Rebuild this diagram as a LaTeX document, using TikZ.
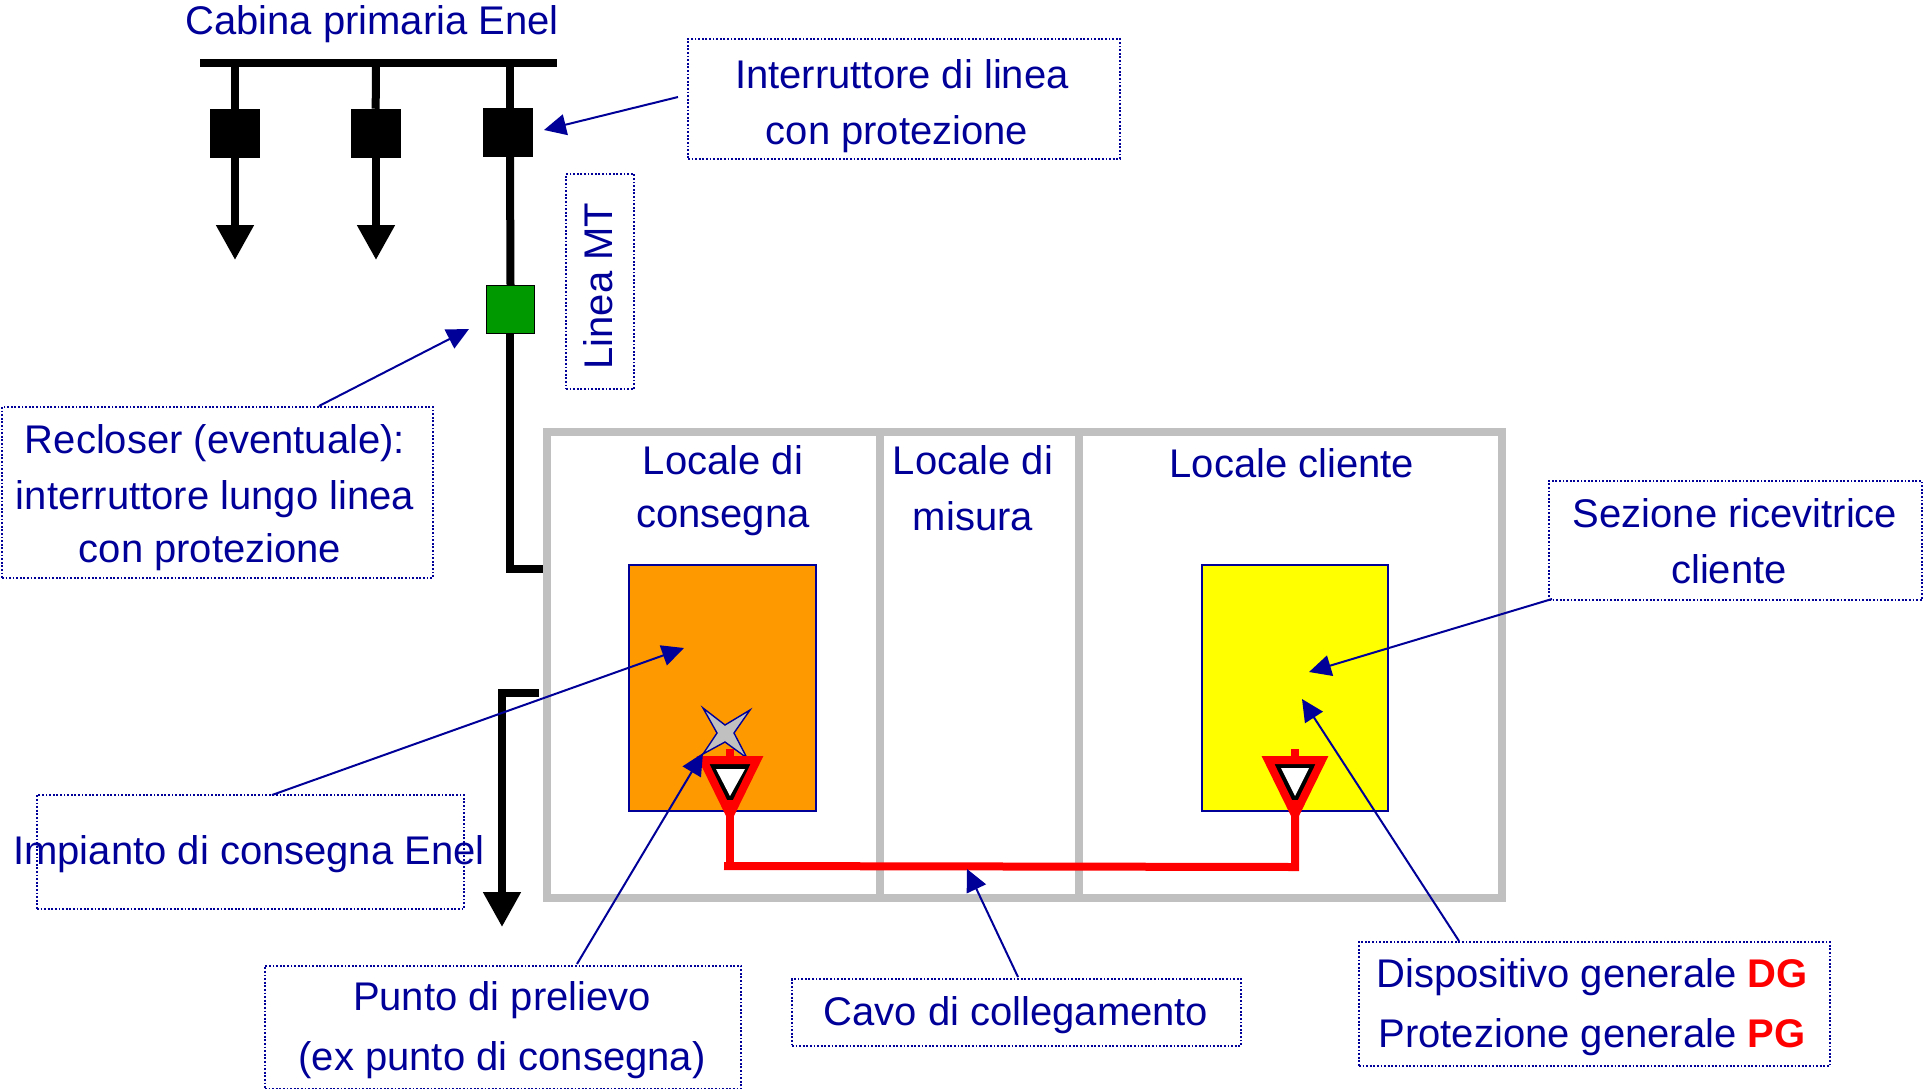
\documentclass[tikz,border=0pt]{standalone}
\usepackage{fontspec}
\setmainfont{Liberation Sans}
\usetikzlibrary{arrows.meta}
\definecolor{navy}{HTML}{000099}
\definecolor{wallgray}{HTML}{C0C0C0}
\definecolor{grn}{HTML}{009900}
\definecolor{org}{HTML}{FF9900}
\definecolor{yel}{HTML}{FFFF00}
\tikzset{
  lbl/.style={anchor=base,inner sep=0pt,text=navy,font=\fontsize{20}{24}\selectfont},
  dotbox/.style={draw=navy,line width=0.9pt,dash pattern=on 0.9pt off 0.9pt,inner sep=0pt,anchor=north west},
  brk/.style={fill=black,draw=black,line width=0.25pt,inner sep=0pt,minimum width=24.5pt,minimum height=24pt},
  blk/.style={line width=4pt,draw=black},
  wall/.style={line width=4pt,draw=wallgray},
  red/.style={line width=4pt,draw=red},
  feed/.style={blk,-{Triangle[length=17.5pt,width=18pt]},shorten >=0pt},
  ptr/.style={draw=navy,line width=1pt,-{Triangle[length=11pt,width=10.5pt,fill=navy]}},
  room/.style={draw=navy,line width=0.8pt,inner sep=0pt,anchor=north west},
}
\newcommand{\dgbold}[1]{\textcolor{red}{\bfseries #1}}
\begin{document}
\begin{tikzpicture}[x=0.5pt,y=-0.5pt]
\useasboundingbox (0,0) rectangle (1924,1088);
% black network
\node[fill=black,inner sep=0pt,minimum width=178.5pt,minimum height=4pt] (bus) at (378.5,63) {};
\node[brk] (b1) at (235,133) {};
\node[brk] (b2) at (375.5,133) {};
\node[brk] (b3) at (508,132.5) {};
\node[draw=black,line width=0.6pt,fill=grn,inner sep=0pt,minimum width=24pt,minimum height=24pt] (rec) at (510.5,309.5) {};
\coordinate (t1) at (235,63); \coordinate (t2) at (376,63); \coordinate (t3) at (510,63);
\coordinate (e1) at (235,260); \coordinate (e2) at (376,260);
\coordinate (b1s) at (235,157); \coordinate (b2s) at (376,157); \coordinate (b3s) at (510,157);
\coordinate (ln1) at (510,334); \coordinate (ln2) at (510,569); \coordinate (ln3) at (548,569);
\coordinate (lo1) at (539,693); \coordinate (lo2) at (502,693); \coordinate (lo3) at (502,927);
\draw[blk] (t1) -- (b1); \draw[blk] (t2) -- (b2); \draw[blk] (t3) -- (510,108);
\draw[feed] (b1s) -- (e1);
\draw[feed] (b2s) -- (e2);
\draw[blk] (b3s) -- (rec.north);
\draw[blk,line join=miter] (ln1) -- (ln2) -- (ln3);
\draw[feed,line join=miter] (lo1) -- (lo2) -- (lo3);
% rooms
\node[inner sep=0pt,minimum width=477.5pt,minimum height=233pt,draw=wallgray,line width=4pt,anchor=north west] (house) at (543,428) {};
\draw[wall] (880,428) -- (880,894);
\draw[wall] (1079,428) -- (1079,894);
\node[room,fill=org,minimum width=93.5pt,minimum height=123pt] (cons) at (628,564) {};
\node[room,fill=yel,minimum width=93pt,minimum height=123pt] (cli) at (1201,564) {};
% star
\filldraw[draw=navy,fill=wallgray,line width=0.7pt,line join=miter] (703,708) -- (725,725) -- (750,710) -- (734,733) -- (747,758) -- (725,742) -- (703,754) -- (717,733) -- cycle;
% red antennas and cable
\coordinate (cl) at (724,866); \coordinate (cm) at (730,866); \coordinate (cr) at (1295,867);
\draw[red] (730,749) -- (730,770);
\draw[red] (1295,749) -- (1295,770);
\fill[red] (703,760) -- (757,760) -- (730,815) -- cycle;
\fill[red] (1268,760) -- (1322,760) -- (1295,815) -- cycle;
\fill[white] (716,769) -- (745,769) -- (730,796) -- cycle;
\fill[white] (1281,768) -- (1309,768) -- (1295,796) -- cycle;
\draw[red] (730,800) -- (cm);
\draw[red,line join=miter] (1295,800) -- (cr) -- (cl);
% text boxes
\node[dotbox,minimum width=216pt,minimum height=60pt] (bint) at (687,38) {};
\node[dotbox,minimum width=34pt,minimum height=107.5pt] (blin) at (565,173) {};
\node[dotbox,minimum width=215.5pt,minimum height=85.5pt] (brec) at (1,406) {};
\node[dotbox,minimum width=186.5pt,minimum height=59.5pt] (bsez) at (1548,480) {};
\node[dotbox,minimum width=213.5pt,minimum height=57pt] (bimp) at (36,794) {};
\node[dotbox,minimum width=238pt,minimum height=61.5pt] (bpun) at (264,965) {};
\node[dotbox,minimum width=224.5pt,minimum height=33.5pt] (bcav) at (791,978) {};
\node[dotbox,minimum width=235.5pt,minimum height=62pt] (bdg) at (1358,941) {};
% labels
\node[lbl] (t01) at (372,34) {Cabina primaria Enel};
\node[lbl] (t02) at (902,88) {Interruttore di linea};
\node[lbl] (t03) at (897,144) {con protezione};
\node[lbl,rotate=90] (t04) at (612,286) {Linea MT};
\node[lbl] (t05) at (215,453) {Recloser (eventuale):};
\node[lbl] (t06) at (215,509) {interruttore lungo linea};
\node[lbl] (t07) at (210,562) {con protezione};
\node[lbl] (t08) at (723,474) {Locale di};
\node[lbl] (t09) at (723,527) {consegna};
\node[lbl] (t10) at (973,474) {Locale di};
\node[lbl] (t11) at (973,530) {misura};
\node[lbl] (t12) at (1292,477) {Locale cliente};
\node[lbl] (t13) at (1735,527) {Sezione ricevitrice};
\node[lbl] (t14) at (1729,583) {cliente};
\node[lbl] (t15) at (249,864) {Impianto di consegna Enel};
\node[lbl] (t16) at (502,1010) {Punto di prelievo};
\node[lbl] (t17) at (502,1070) {(ex punto di consegna)};
\node[lbl] (t18) at (1016,1025) {Cavo di collegamento};
\node[lbl] (t19) at (1592,987) {Dispositivo generale \dgbold{DG}};
\node[lbl] (t20) at (1592,1047) {Protezione generale \dgbold{PG}};
% pointers
\coordinate (p1s) at (678,97);   \coordinate (p1t) at (544,130);
\coordinate (p2s) at (319,406);  \coordinate (p2t) at (469,329);
\coordinate (p3s) at (272,795);  \coordinate (p3t) at (684,648);
\coordinate (p4s) at (577,964);  \coordinate (p4t) at (703,753);
\coordinate (p5s) at (1018,977); \coordinate (p5t) at (967,869);
\coordinate (p6s) at (1552,599); \coordinate (p6t) at (1309,672);
\coordinate (p7s) at (1459,941); \coordinate (p7t) at (1302,699);
\draw[ptr] (p1s) -- (p1t);
\draw[ptr] (p2s) -- (p2t);
\draw[ptr] (p3s) -- (p3t);
\draw[ptr] (p4s) -- (p4t);
\draw[ptr] (p5s) -- (p5t);
\draw[ptr] (p6s) -- (p6t);
\draw[ptr] (p7s) -- (p7t);
\end{tikzpicture}
\end{document}
